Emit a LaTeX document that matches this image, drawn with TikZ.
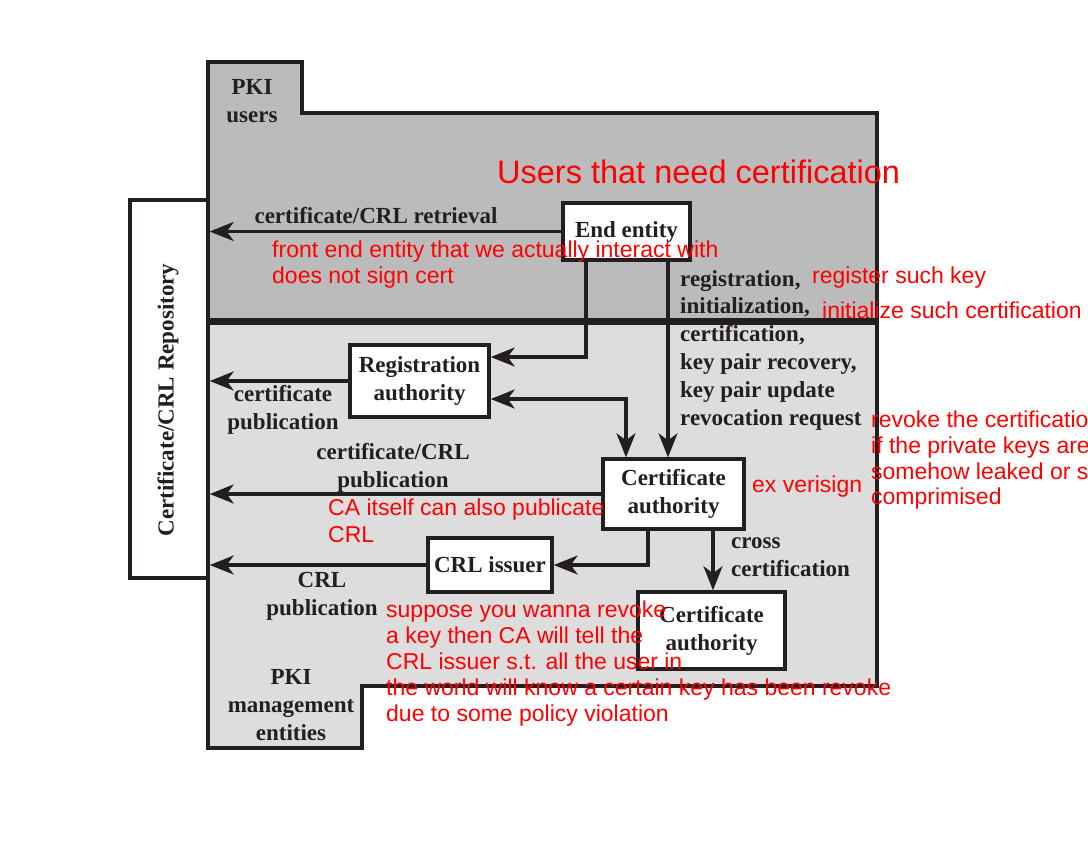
\documentclass[tikz,border=0pt]{standalone}
\usepackage{fontspec}
\setmainfont{Liberation Serif}
\newfontfamily\annfont{Liberation Sans}
\usetikzlibrary{arrows.meta}
\definecolor{ink}{HTML}{231F20}
\definecolor{usergray}{HTML}{BBBBBB}
\definecolor{mgmtgray}{HTML}{DDDDDD}
\definecolor{annred}{HTML}{FF0000}
\begin{document}
\begin{tikzpicture}[x=1pt,y=-1pt,
 region/.style={draw=ink, line width=3.5pt, line join=miter},
 entbox/.style={draw=ink, fill=white, line width=3.4pt, inner sep=0pt, align=center, font=\bfseries\fontsize{23}{28}\selectfont, text=ink},
 lbl/.style={inner sep=0pt, font=\bfseries\fontsize{23}{27.8}\selectfont, text=ink},
 conn/.style={draw=ink, line width=3.2pt, -{Stealth[length=24pt,width=19pt,inset=7pt]}},
 conntwo/.style={draw=ink, line width=3.2pt, {Stealth[length=24pt,width=19pt,inset=7pt]}-{Stealth[length=24pt,width=19pt,inset=7pt]}},
 note/.style={inner sep=0pt, anchor=base west, text=annred, font=\annfont\fontsize{23}{26}\selectfont},
]
\useasboundingbox (0,0) rectangle (1088,841);
\fill[white] (0,0) rectangle (1088,841);
% regions
\draw[region, fill=usergray] (208,62) -- (302,62) -- (302,113) -- (877,113) -- (877,320) -- (208,320) -- cycle;
\draw[region, fill=mgmtgray] (208,323) -- (877,323) -- (877,686) -- (362,686) -- (362,748) -- (208,748) -- cycle;
% repository
\node[entbox, minimum width=78pt, minimum height=378pt] (repo) at (169,389) {};
\node[lbl, rotate=90] (repotext) at (168,400) {Certificate/CRL Repository};
% boxes
\node[entbox, minimum width=127pt, minimum height=57pt] (ee) at (626.5,231.5) {End entity};
\node[entbox, minimum width=139pt, minimum height=72pt] (ra) at (419.5,381) {Registration\\authority};
\node[entbox, minimum width=141pt, minimum height=70pt] (ca) at (673.5,494) {Certificate\\authority};
\node[entbox, minimum width=124pt, minimum height=54pt] (crl) at (490,565) {CRL issuer};
\node[entbox, minimum width=147pt, minimum height=77pt] (catwo) at (711.5,630.5) {Certificate\\authority};
% connectors
\draw[conn] (ee.west) -- (ee.west -| repo.east);
\draw[conn] ([xshift=-40.5pt]ee.south) |- ([yshift=24pt]ra.east);
\draw[conn] ([xshift=41.5pt]ee.south) -- ([xshift=41.5pt]ee.south |- ca.north);
\draw[conntwo] ([yshift=-18pt]ra.east) -| ([xshift=-47.5pt]ca.north);
\draw[conn] (ra.west) -- (ra.west -| repo.east);
\draw[conn] (ca.west) -- (ca.west -| repo.east);
\draw[conn] ([xshift=-25.5pt]ca.south) |- (crl.east);
\draw[conn] (crl.west) -- (crl.west -| repo.east);
\draw[conn] ([xshift=39.5pt]ca.south) -- ([xshift=39.5pt]ca.south |- catwo.north);
% black labels
\node[lbl, align=center] (pkiusers) at (252,101) {PKI\\users};
\node[lbl, anchor=base] (retr) at (376,223) {certificate/CRL retrieval};
\node[lbl, align=left, anchor=west] (ops) at (680,350) {registration,\\initialization,\\certification,\\key pair recovery,\\key pair update\\revocation request};
\node[lbl, align=center] (certpub) at (283,410) {certificate\\publication};
\node[lbl, align=center] (crlpub) at (393,468) {certificate/CRL\\publication};
\node[lbl, align=center] (crlpubtwo) at (322,596) {CRL\\publication};
\node[lbl, align=left, anchor=west] (cross) at (731,557) {cross\\certification};
\node[lbl, align=center] (pkimgmt) at (291,705) {PKI\\management\\entities};
% red annotations
\node[note, font=\annfont\fontsize{32.5}{36}\selectfont] (n1) at (497,183) {Users that need certification};
\node[note] (n2) at (272,257) {front end entity that we actually interact with};
\node[note] (n3) at (272,283) {does not sign cert};
\node[note] (n4) at (812,283) {register such key};
\node[note] (n5) at (822,318) {initialize such certification};
\node[note] (n6) at (871,427) {revoke the certification};
\node[note] (n7) at (871,453) {if the private keys are};
\node[note] (n8) at (871,479) {somehow leaked or stolen};
\node[note] (n9) at (871,504) {comprimised};
\node[note] (n10) at (752,492) {ex verisign};
\node[note] (n11) at (328,515) {CA itself can also publicate};
\node[note] (n12) at (328,542) {CRL};
\node[note] (n13) at (386,617) {suppose you wanna revoke};
\node[note] (n14) at (386,643) {a key then CA will tell the};
\node[note] (n15) at (386,669) {CRL issuer s.t. all the user in};
\node[note] (n16) at (386,695) {the world will know a certain key has been revoke};
\node[note] (n17) at (386,721) {due to some policy violation};
\end{tikzpicture}
\end{document}
